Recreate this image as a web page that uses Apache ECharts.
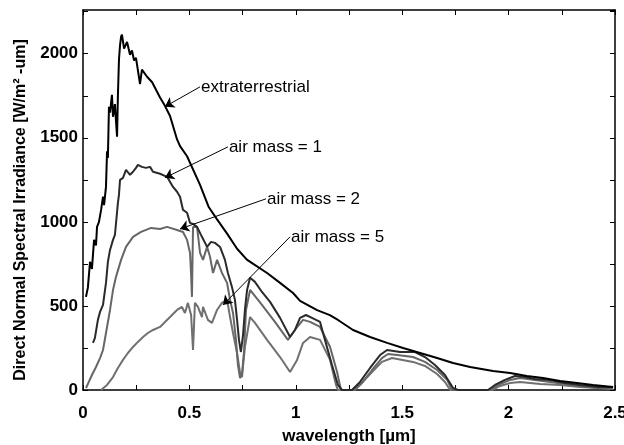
<!DOCTYPE html>
<html>
<head>
<meta charset="utf-8">
<script src="https://cdn.jsdelivr.net/npm/echarts@6/dist/echarts.min.js"></script>
<style>
  html, body { margin: 0; padding: 0; background: #fff; }
  #chart { width: 624px; height: 445px; }
</style>
</head>
<body>
<div id="chart"></div>
<script>
// wavelength [um] / irradiance [W/m2-um]
const extraX = [0.014,0.023,0.033,0.042,0.052,0.061,0.066,0.075,0.085,0.094,0.099,0.108,0.113,0.117,0.122,0.127,0.136,0.141,0.150,0.155,0.160,0.164,0.169,0.174,0.179,0.183,0.193,0.207,0.221,0.230,0.240,0.249,0.268,0.277,0.301,0.325,0.362,0.385,0.409,0.442,0.456,0.489,0.550,0.590,0.630,0.677,0.724,0.770,0.800,0.865,0.926,0.987,1.020,1.100,1.160,1.200,1.269,1.349,1.429,1.504,1.584,1.664,1.739,1.819,1.927,2.007,2.086,2.162,2.242,2.321,2.397,2.491];
const extraY = [554,610,762,720,893,860,970,1000,1071,1150,1100,1208,1420,1380,1685,1650,1756,1625,1700,1600,1506,1750,1964,2050,2101,2113,2030,2070,1994,2020,1960,1975,1820,1905,1863,1830,1740,1690,1630,1490,1450,1390,1220,1090,1015,930,840,775,750,696,637,577,530,475,445,415,357,315,280,250,220,190,161,137,113,101,83,71,54,42,30,18];

const am1X = [0.047,0.056,0.070,0.080,0.094,0.108,0.117,0.127,0.141,0.150,0.164,0.169,0.174,0.188,0.202,0.221,0.235,0.249,0.258,0.277,0.296,0.315,0.329,0.362,0.395,0.423,0.442,0.456,0.470,0.489,0.503,0.517,0.536,0.559,0.583,0.602,0.620,0.644,0.667,0.681,0.700,0.714,0.724,0.733,0.742,0.752,0.761,0.771,0.785,0.808,0.841,0.879,0.926,0.973,0.996,1.020,1.048,1.076,1.114,1.137,1.170,1.198,1.217,1.264,1.302,1.349,1.396,1.429,1.490,1.560,1.607,1.654,1.701,1.739,1.762,1.903,1.936,1.983,2.030,2.077,2.124,2.195,2.265,2.336,2.420,2.491];
const am1Y = [280,310,417,464,506,637,762,833,893,922,1113,1161,1250,1262,1309,1280,1298,1321,1339,1327,1321,1327,1298,1286,1268,1208,1179,1149,1071,1054,994,988,970,911,851,881,875,851,774,696,613,536,417,298,226,327,476,595,667,643,583,524,429,315,357,429,446,429,405,298,149,30,0,0,48,131,208,238,226,226,196,149,89,12,0,0,30,60,83,77,65,60,42,30,18,18];

const am2X = [0.014,0.023,0.042,0.061,0.080,0.094,0.108,0.127,0.141,0.155,0.179,0.202,0.235,0.273,0.320,0.362,0.395,0.442,0.470,0.489,0.503,0.508,0.512,0.517,0.536,0.550,0.564,0.583,0.597,0.611,0.630,0.653,0.677,0.691,0.705,0.719,0.728,0.738,0.747,0.757,0.766,0.785,0.841,0.902,0.963,0.996,1.034,1.067,1.114,1.161,1.194,1.212,1.278,1.311,1.358,1.405,1.433,1.476,1.551,1.607,1.664,1.711,1.734,1.913,1.950,2.007,2.054,2.124,2.195,2.265,2.336,2.420,2.491];
const am2Y = [12,36,89,137,190,238,339,476,595,673,774,851,911,940,964,958,970,952,940,893,815,685,554,970,970,815,774,851,792,696,774,696,637,536,458,298,149,71,89,238,476,595,506,405,298,357,417,405,375,256,107,0,0,42,119,190,214,208,196,167,119,60,0,0,30,60,71,60,48,36,24,12,12];

const am5X = [0.085,0.113,0.141,0.164,0.188,0.211,0.235,0.258,0.282,0.305,0.329,0.362,0.409,0.442,0.465,0.479,0.493,0.508,0.517,0.526,0.540,0.559,0.564,0.587,0.606,0.630,0.653,0.677,0.691,0.705,0.724,0.738,0.747,0.761,0.785,0.808,0.865,0.926,0.973,1.006,1.034,1.067,1.114,1.161,1.189,1.198,1.264,1.311,1.358,1.405,1.452,1.551,1.607,1.664,1.701,1.725,1.922,1.960,2.007,2.054,2.148,2.242,2.336,2.420,2.491];
const am5Y = [0,30,77,131,179,220,256,286,315,339,357,375,434,476,494,458,518,446,238,518,494,434,494,417,399,476,518,536,434,339,220,101,77,256,434,399,298,196,107,179,280,315,298,179,30,0,0,42,107,167,190,167,143,95,48,0,0,24,42,48,36,30,18,12,6];

const xTicks = { min: 0, max: 2.5, step: 0.25, labelStep: 0.5 };
const yTicks = { min: 0, max: 2260, step: 250, labelStep: 500 };

// annotation arrows: [from, to] in data units
const arrowLines = [
  [[0.550, 1803], [0.385, 1685]],
  [[0.681, 1446], [0.385, 1262]],
  [[0.860, 1137], [0.456, 958]],
  [[0.973, 911], [0.658, 506]]
];
const labelTexts = ['extraterrestrial', 'air mass = 1', 'air mass = 2', 'air mass = 5'];

function zip(xs, ys) {
  return xs.map(function (x, i) { return [x, ys[i]]; });
}

function isStep(v, step) {
  var k = v / step;
  return Math.abs(k - Math.round(k)) < 1e-6;
}

var chart = echarts.init(document.getElementById('chart'));

var tickFont = { fontFamily: 'Liberation Sans, Arial, sans-serif', fontWeight: 'bold', fontSize: 17, color: '#000' };

function axisBase(extra) {
  return Object.assign({
    type: 'value',
    axisLine: { show: true, onZero: false, lineStyle: { color: '#000', width: 1.5 } },
    axisTick: { show: true, inside: true, length: 5, lineStyle: { color: '#000', width: 1 } },
    splitLine: { show: false }
  }, extra);
}

var option = {
  animation: false,
  backgroundColor: '#fff',
  grid: { left: 83, right: 9, top: 10, bottom: 55, outerBoundsMode: 'none', containLabel: false },
  xAxis: [
    axisBase({
      min: xTicks.min, max: xTicks.max, interval: xTicks.step,
      position: 'bottom',
      name: 'wavelength [\u00b5m]',
      nameLocation: 'middle',
      nameGap: 38,
      nameTextStyle: tickFont,
      axisLabel: Object.assign({
        margin: 15,
        formatter: function (v) { return isStep(v, xTicks.labelStep) ? String(+v.toFixed(2)) : ''; }
      }, tickFont)
    }),
    axisBase({
      min: xTicks.min, max: xTicks.max, interval: xTicks.step,
      position: 'top',
      axisLabel: { show: false }
    })
  ],
  yAxis: [
    axisBase({
      min: yTicks.min, max: yTicks.max, interval: yTicks.step,
      position: 'left',
      name: 'Direct Normal Spectral Irradiance [W/m\u00b2 -um]',
      nameLocation: 'middle',
      nameGap: 54,
      nameTextStyle: Object.assign({}, tickFont, { fontSize: 16, padding: [0, 20, 0, 0] }),
      axisLabel: Object.assign({
        margin: 5,
        showMaxLabel: false,
        formatter: function (v) { return isStep(v, yTicks.labelStep) ? String(v) : ''; }
      }, tickFont)
    }),
    axisBase({
      min: yTicks.min, max: yTicks.max, interval: yTicks.step,
      position: 'right',
      axisLabel: { show: false }
    })
  ],
  series: [
    {
      name: 'air mass = 5', type: 'line', data: zip(am5X, am5Y),
      showSymbol: false, symbol: 'none',
      lineStyle: { color: '#707070', width: 2 }
    },
    {
      name: 'air mass = 2', type: 'line', data: zip(am2X, am2Y),
      showSymbol: false, symbol: 'none',
      lineStyle: { color: '#666', width: 2 }
    },
    {
      name: 'air mass = 1', type: 'line', data: zip(am1X, am1Y),
      showSymbol: false, symbol: 'none',
      lineStyle: { color: '#2a2a2a', width: 2 }
    },
    {
      name: 'extraterrestrial', type: 'line', data: zip(extraX, extraY),
      showSymbol: false, symbol: 'none',
      lineStyle: { color: '#000', width: 2 },
      markLine: {
        silent: true,
        symbol: ['none', 'arrow'],
        symbolSize: 9,
        label: { show: false },
        lineStyle: { color: '#000', width: 1, type: 'solid' },
        itemStyle: { color: '#000' },
        data: arrowLines.map(function (a) {
          return [{ coord: a[0] }, { coord: a[1] }];
        })
      }
    }
  ]
};

chart.setOption(option);

// place the labels just past the tail of each arrow
var labelFont = '17px "Liberation Sans", Arial, sans-serif';
chart.setOption({
  graphic: arrowLines.map(function (a, i) {
    var p = chart.convertToPixel({ xAxisIndex: 0, yAxisIndex: 0 }, a[0]);
    return {
      type: 'text',
      x: p[0] + 1,
      y: p[1],
      style: { text: labelTexts[i], font: labelFont, fill: '#000', textVerticalAlign: 'middle' }
    };
  })
});
</script>
</body>
</html>
